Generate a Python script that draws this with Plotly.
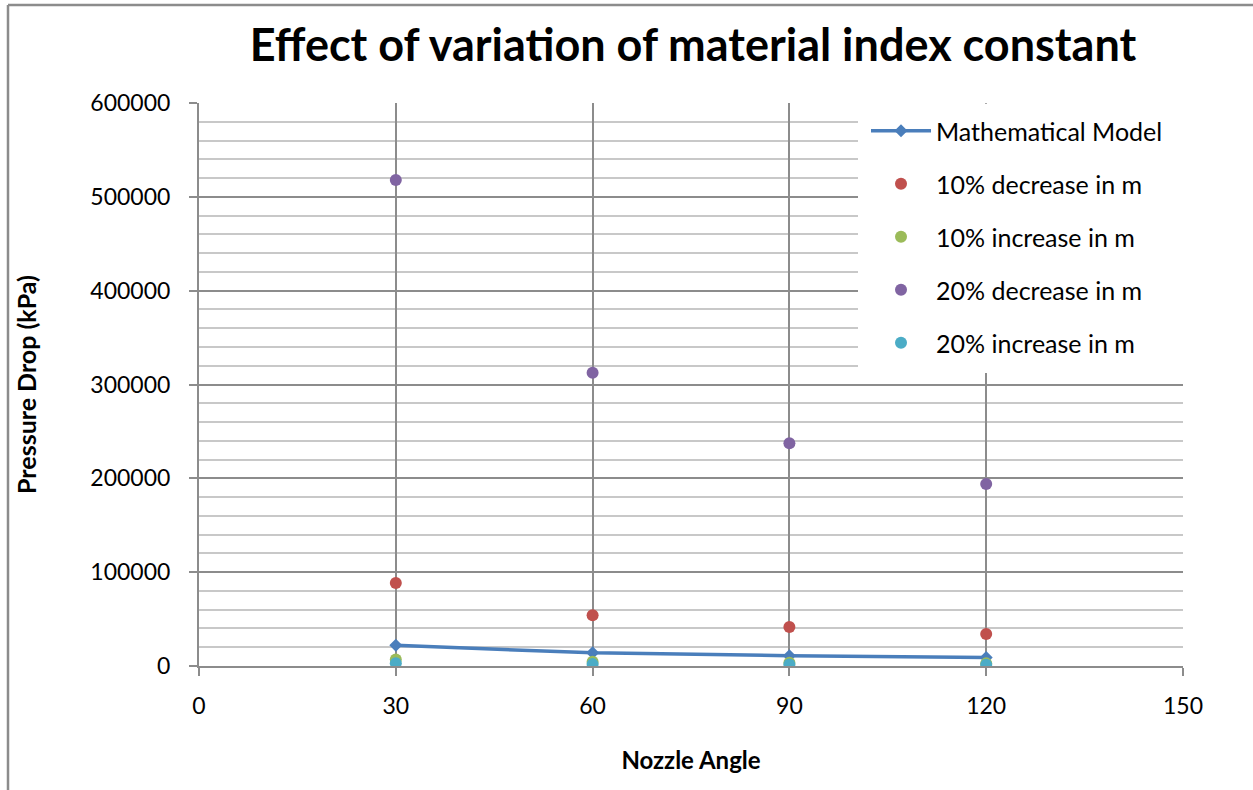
import plotly.graph_objects as go

nozzle_angle = [30, 60, 90, 120]
math_model = [22000, 14000, 11000, 9000]
dec10 = [88500, 54000, 41500, 34000]
inc10 = [7000, 4500, 3500, 2800]
dec20 = [518000, 312500, 237500, 194000]
inc20 = [3000, 2000, 1700, 1300]

x_ticks = [0, 30, 60, 90, 120, 150]
y_ticks = [0, 100000, 200000, 300000, 400000, 500000, 600000]

FONT = "Lato"
W, H = 1253, 790
L, R, T, B = 199, 70, 103, 124

fig = go.Figure()
fig.add_trace(go.Scatter(x=nozzle_angle, y=math_model, mode="lines+markers",
                         name="Mathematical Model", legendgroup="a",
                         line=dict(color="#4A7EBB", width=3.5),
                         marker=dict(symbol="diamond", size=10, color="#4A7EBB")))
series = [("10% decrease in m", dec10, "#C0504D"),
          ("10% increase in m", inc10, "#9BBB59"),
          ("20% decrease in m", dec20, "#8064A2"),
          ("20% increase in m", inc20, "#4BACC6")]
for i, (nm, vals, col) in enumerate(series):
    fig.add_trace(go.Scatter(x=nozzle_angle, y=vals, mode="markers", name=nm,
                             legendgroup="g%d" % i,
                             marker=dict(symbol="circle", size=12, color=col)))

pw = W - L - R
ph = H - T - B
def px_x(p):
    return (p - L) / pw
def px_y(p):
    return (H - B - p) / ph

shapes = [
    dict(type="line", xref="paper", yref="paper", x0=px_x(8), x1=px_x(1260), y0=px_y(5), y1=px_y(5),
         line=dict(color="#8C8C8C", width=2.5)),
    dict(type="line", xref="paper", yref="paper", x0=px_x(8), x1=px_x(8), y0=px_y(5), y1=px_y(800),
         line=dict(color="#8C8C8C", width=2.5)),
    # legend background panel
    dict(type="rect", xref="paper", yref="paper", x0=px_x(858), x1=px_x(1190),
         y0=px_y(373), y1=px_y(103.8), fillcolor="white", line=dict(width=0), layer="above"),
]

fig.update_layout(
    width=W, height=H,
    margin=dict(l=L, r=R, t=T, b=B),
    paper_bgcolor="white", plot_bgcolor="white",
    font=dict(family=FONT, color="#000000", size=22),
    title=dict(text="<b>Effect of variation of material index constant</b>",
               x=px_x(693), xanchor="center", xref="paper",
               y=1 - 45 / H, yanchor="middle",
               font=dict(size=45, family=FONT, color="#000000")),
    showlegend=True,
    legend=dict(x=px_x(1168), xanchor="right", y=px_y(108), yanchor="top",
                bgcolor="rgba(0,0,0,0)", borderwidth=0,
                font=dict(size=25, family=FONT),
                tracegroupgap=17.5, itemwidth=60,
                traceorder="grouped"),
    shapes=shapes,
)
fig.update_xaxes(range=[0, 150], tickvals=x_ticks, ticktext=[str(v) for v in x_ticks],
                 showgrid=True, gridcolor="#8C8C8C", gridwidth=1.5,
                 showline=True, linecolor="#8C8C8C", linewidth=2,
                 ticks="outside", ticklen=8, tickcolor="#8C8C8C", tickwidth=2,
                 zeroline=False, ticklabelstandoff=10,
                 tickfont=dict(size=23, family=FONT),
                 title=dict(text="<b>Nozzle Angle</b>", font=dict(size=24, family=FONT), standoff=35))
fig.update_yaxes(range=[0, 600000], tickvals=y_ticks, ticktext=[str(v) for v in y_ticks],
                 showgrid=True, gridcolor="#8C8C8C", gridwidth=1.5,
                 minor=dict(dtick=20000, showgrid=True, gridcolor="#C8C8C8", gridwidth=1.5),
                 showline=True, linecolor="#8C8C8C", linewidth=2,
                 ticks="outside", ticklen=8, tickcolor="#8C8C8C", tickwidth=2,
                 zeroline=False, ticklabelstandoff=14,
                 tickfont=dict(size=23, family=FONT),
                 title=dict(text="<b>Pressure Drop (kPa)</b>", font=dict(size=25, family=FONT), standoff=47))

fig.write_html("out.html")
